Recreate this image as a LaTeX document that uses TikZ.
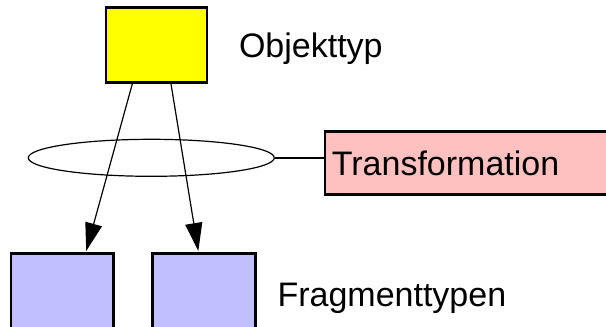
\documentclass[tikz,border=0pt]{standalone}
\usepackage{fontspec}
\setmainfont{Liberation Sans}
\usepackage{xcolor}
\usetikzlibrary{shapes.geometric,arrows.meta}

\definecolor{objyellow}{HTML}{FFFF00}
\definecolor{fragblue}{HTML}{C0C0FF}
\definecolor{transpink}{HTML}{FFC0C0}

\begin{document}
\begin{tikzpicture}[x=1pt,y=-1pt]

\clip (0,0) rectangle (606,327);

\node[
    draw=black,
    fill=objyellow,
    line width=2.8pt,
    minimum width=101pt,
    minimum height=75pt,
    inner sep=0pt
] (obj) at (156.5,45) {};

\node[anchor=base west, font=\fontsize{34}{40}\selectfont] (objlabel) at (235.5,57.3) {Objekttyp};

\node[
    draw=black,
    fill=fragblue,
    line width=2.8pt,
    minimum width=102.5pt,
    minimum height=75pt,
    inner sep=0pt
] (frag1) at (62.2,291.3) {};

\node[
    draw=black,
    fill=fragblue,
    line width=2.8pt,
    minimum width=102.5pt,
    minimum height=75pt,
    inner sep=0pt
] (frag2) at (204,291.3) {};

\node[anchor=base west, font=\fontsize{34}{40}\selectfont] (fraglabel) at (274,306.7) {Fragmenttypen};

\node[
    draw=black,
    ellipse,
    line width=1.2pt,
    minimum width=246pt,
    minimum height=37pt,
    inner sep=0pt
] (ell) at (151.3,157.8) {};

\node[
    draw=black,
    fill=transpink,
    line width=2.8pt,
    anchor=west,
    minimum height=62.7pt,
    text width=300pt,
    inner xsep=7pt,
    align=left,
    font=\fontsize{34}{40}\selectfont
] (trans) at (323.5,162.9) {Transformation};

\draw[line width=2pt] (ell.east) -- (ell.east -| trans.west);

\draw[line width=1.2pt, -{Triangle[length=28pt,width=17pt]}]
    ([xshift=-24.2pt]obj.south) -- ([xshift=24pt,yshift=1.4pt]frag1.north);
\draw[line width=1.2pt, -{Triangle[length=28pt,width=17pt]}]
    ([xshift=14.5pt]obj.south) -- ([xshift=-5.7pt,yshift=1.4pt]frag2.north);

\end{tikzpicture}
\end{document}
